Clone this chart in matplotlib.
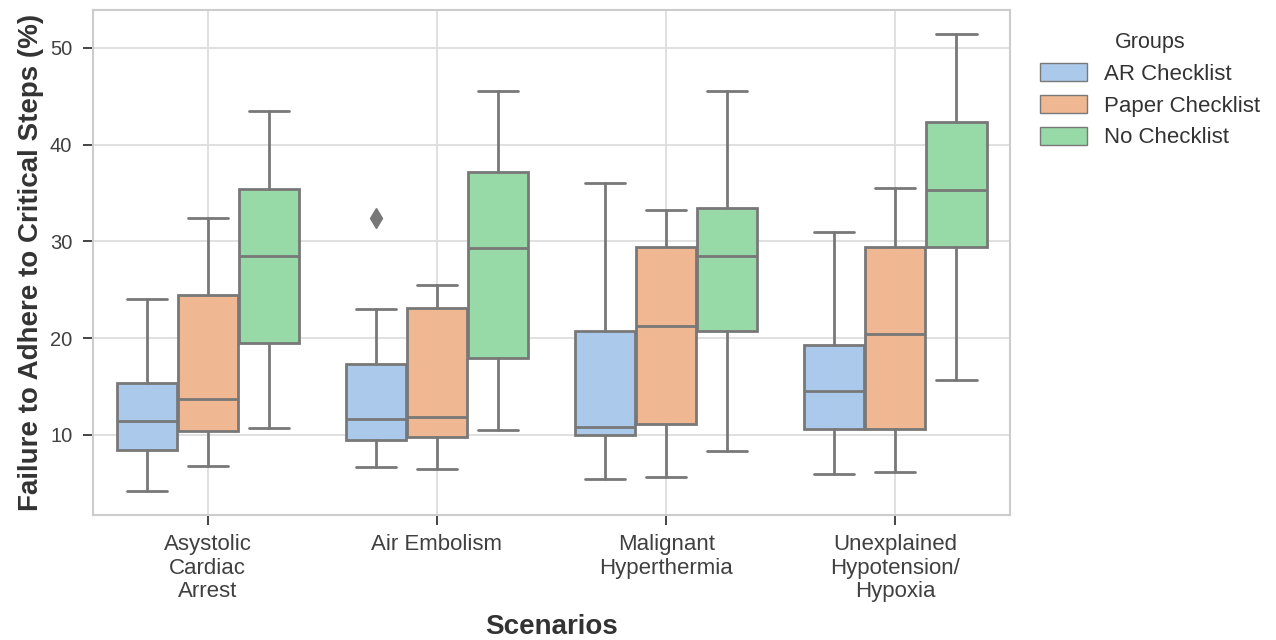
import matplotlib
matplotlib.use("Agg")
import matplotlib.pyplot as plt
import seaborn as sns
from matplotlib.patches import Patch

scenarios = ["Asystolic\nCardiac\nArrest", "Air Embolism", "Malignant\nHyperthermia",
             "Unexplained\nHypotension/\nHypoxia"]
groups = ["AR Checklist", "Paper Checklist", "No Checklist"]

# box stats: whislo, q1, med, q3, whishi (one row per scenario)
ar_stats = [
    [4.2, 8.4, 11.4, 15.4, 24.0],
    [6.7, 9.5, 11.6, 17.3, 23.0],
    [5.4, 10.0, 10.8, 20.7, 36.0],
    [6.0, 10.6, 14.5, 19.3, 31.0],
]
paper_stats = [
    [6.8, 10.4, 13.7, 24.5, 32.4],
    [6.5, 9.8, 11.9, 23.1, 25.5],
    [5.7, 11.1, 21.3, 29.4, 33.2],
    [6.2, 10.6, 20.4, 29.4, 35.5],
]
none_stats = [
    [10.7, 19.5, 28.5, 35.4, 43.5],
    [10.5, 18.0, 29.3, 37.2, 45.6],
    [8.3, 20.7, 28.5, 33.5, 45.5],
    [15.7, 29.4, 35.3, 42.3, 51.4],
]
# outliers per scenario (AR Checklist only)
ar_fliers = [[], [32.4], [], []]

sns.set_theme(style="whitegrid")
plt.rcParams["font.family"] = ["Liberation Sans", "DejaVu Sans"]

colors = [sns.desaturate(c, 0.75) for c in sns.color_palette("pastel")[:3]]
line_col = "#787878"

fig = plt.figure(figsize=(12.76, 6.4), dpi=100)
ax = fig.add_axes([0.073, 0.195, 0.7185, 0.789])

all_stats = [ar_stats, paper_stats, none_stats]
offsets = [-0.2667, 0.0, 0.2667]
for g, (stats, off) in enumerate(zip(all_stats, offsets)):
    bxp_data = []
    for i, s in enumerate(stats):
        fl = ar_fliers[i] if g == 0 else []
        bxp_data.append(dict(whislo=s[0], q1=s[1], med=s[2], q3=s[3], whishi=s[4], fliers=fl))
    ax.bxp(bxp_data, positions=[i + off for i in range(len(stats))], widths=0.262,
           capwidths=0.175, patch_artist=True, manage_ticks=False,
           boxprops=dict(facecolor=colors[g], edgecolor=line_col, linewidth=2),
           medianprops=dict(color=line_col, linewidth=2),
           whiskerprops=dict(color=line_col, linewidth=2),
           capprops=dict(color=line_col, linewidth=2),
           flierprops=dict(marker="d", markerfacecolor=line_col, markeredgecolor=line_col,
                           markersize=10))

ax.set_xlim(-0.5, 3.5)
ax.set_ylim(1.7, 53.9)
ax.set_xticks(range(len(scenarios)))
ax.set_xticklabels(scenarios, fontsize=16, color="#404040", linespacing=1.17)
ax.set_yticks([10, 20, 30, 40, 50])
ax.tick_params(axis="y", labelsize=14.5, labelcolor="#404040")
ax.grid(True, color="#dddddd", linewidth=1.3)
for sp in ax.spines.values():
    sp.set_color("#cccccc")
    sp.set_linewidth(1.5)

# force visible outward tick marks
ax.tick_params(axis="both", which="major", direction="out", length=7, width=1.4,
               color="#444444", bottom=True, left=True)
ax.tick_params(axis="x", pad=6.5)
ax.tick_params(axis="y", pad=8)
for t in ax.xaxis.get_major_ticks() + ax.yaxis.get_major_ticks():
    t.tick1line.set_visible(True)
    t.tick1line.set_markersize(7)
    t.tick1line.set_markeredgewidth(1.4)
    t.tick1line.set_color("#444444")

ax.set_ylabel("Failure to Adhere to Critical Steps (%)", fontsize=20, fontweight="bold",
              color="#333333", labelpad=4)
ax.set_xlabel("Scenarios", fontsize=20, fontweight="bold", color="#333333", labelpad=8)

handles = [Patch(facecolor=colors[k], edgecolor=line_col, label=groups[k]) for k in range(3)]
leg = ax.legend(handles=handles, title="Groups", loc="upper left", bbox_to_anchor=(1.011, 0.997),
                frameon=False, fontsize=16, title_fontsize=15.5, handlelength=2.1,
                handleheight=0.9, labelspacing=0.45, handletextpad=0.8)
for t in leg.get_texts():
    t.set_color("#333333")
leg.get_title().set_color("#333333")

fig.savefig("out.png", dpi=100)
